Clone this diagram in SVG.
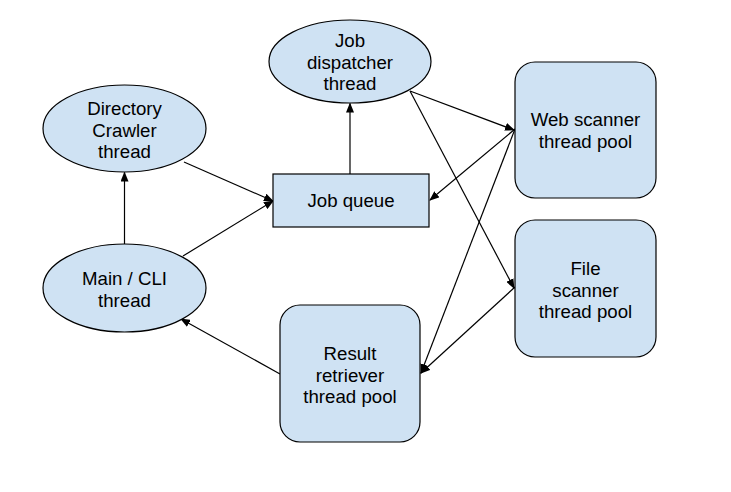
<svg xmlns="http://www.w3.org/2000/svg" width="731" height="492" viewBox="0 0 731 492">
<style>
.n{fill:#cfe2f3;stroke:#000;stroke-width:1.2}
.t{font-family:"Liberation Sans",Arial,sans-serif;font-size:18.67px;fill:#000;text-anchor:middle}
.c line{stroke:#000;stroke-width:1.2;marker-end:url(#ah)}
</style>
<defs>
<marker id="ah" markerUnits="userSpaceOnUse" markerWidth="10" markerHeight="8" refX="9" refY="4" orient="auto">
<path d="M0,0 L10,4 L0,8 Z" fill="#000"/>
</marker>
</defs>
<rect width="731" height="492" fill="#fff"/>
<g class="c">
<line x1="124.5" y1="244" x2="124.5" y2="172.5"/>
<line x1="184" y1="162" x2="273" y2="201"/>
<line x1="183" y1="256" x2="273" y2="201"/>
<line x1="350" y1="174" x2="350" y2="103.5"/>
<line x1="410" y1="91" x2="514" y2="130"/>
<line x1="410" y1="91" x2="514" y2="288"/>
<line x1="515" y1="129" x2="430" y2="200"/>
<line x1="515" y1="129" x2="421" y2="373"/>
<line x1="515" y1="287" x2="421" y2="373"/>
<line x1="280" y1="374" x2="181" y2="319"/>
</g>
<g id="dispatcher"><ellipse class="n" cx="350" cy="61.5" rx="81" ry="41.5"/>
<text class="t" x="350" y="47">Job</text><text class="t" x="350" y="68.5">dispatcher</text><text class="t" x="350" y="90">thread</text></g>
<g id="crawler"><ellipse class="n" cx="124.5" cy="128.5" rx="81.5" ry="43.5"/>
<text class="t" x="124.5" y="115">Directory</text><text class="t" x="124.5" y="136.5">Crawler</text><text class="t" x="124.5" y="158">thread</text></g>
<g id="main"><ellipse class="n" cx="124.5" cy="288" rx="81.5" ry="44"/>
<text class="t" x="124.5" y="285">Main / CLI</text><text class="t" x="124.5" y="307">thread</text></g>
<g id="jobqueue"><rect class="n" x="273" y="174" width="156" height="53"/>
<text class="t" x="351" y="207">Job queue</text></g>
<g id="web"><rect class="n" x="515" y="62" width="141" height="136" rx="20"/>
<text class="t" x="585.5" y="126">Web scanner</text><text class="t" x="585.5" y="147.5">thread pool</text></g>
<g id="file"><rect class="n" x="515" y="220" width="141" height="137" rx="20"/>
<text class="t" x="585.5" y="275">File</text><text class="t" x="585.5" y="296.5">scanner</text><text class="t" x="585.5" y="318">thread pool</text></g>
<g id="result"><rect class="n" x="280" y="305" width="140" height="137" rx="20"/>
<text class="t" x="350" y="360">Result</text><text class="t" x="350" y="381.5">retriever</text><text class="t" x="350" y="403">thread pool</text></g>
</svg>
